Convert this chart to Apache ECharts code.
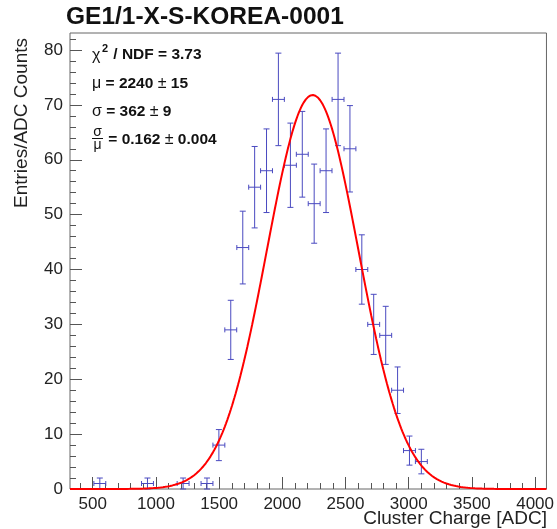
<!DOCTYPE html>
<html>
<head>
<meta charset="utf-8">
<script src="https://cdn.jsdelivr.net/npm/echarts@6/dist/echarts.min.js"></script>
<style>
html,body{margin:0;padding:0;background:#fff;}
#c{width:557px;height:529px;}
</style>
</head>
<body>
<div id="c"></div>
<script>
// ---- data ----
const binCenters = [556, 933, 1215, 1404, 1498, 1592, 1687, 1781, 1875, 1969, 2064, 2158, 2252, 2346, 2441, 2535, 2629, 2723, 2818, 2912, 3006, 3100];
const counts     = [1, 1, 1, 1, 8, 29, 44, 55, 58, 71, 59, 61, 52, 58, 71, 62, 40, 30, 28, 18, 7, 5];
const countErrs  = [1, 1, 1, 1, 2.83, 5.39, 6.63, 7.42, 7.62, 8.43, 7.68, 7.81, 7.21, 7.62, 8.43, 7.87, 6.32, 5.48, 5.29, 4.24, 2.65, 2.24];
const binHalfWidth = 47.1;
const xTickLabels = [500, 1000, 1500, 2000, 2500, 3000, 3500, 4000];
const yTickLabels = [0, 10, 20, 30, 40, 50, 60, 70, 80];
const xRange = [320, 4090];
const yRange = [0, 83.1];
// Gaussian fit parameters shown in the stats box
const fitMu = 2240, fitSigma = 362, fitAmp = 71.8;

// ---- derived ----
const xMinor = [];
for (let v = 400; v <= 4000; v += 100) if (v % 500 !== 0) xMinor.push(v);
const yMinor = [];
for (let v = 2; v <= 82; v += 2) if (v % 10 !== 0) yMinor.push(v);

const fitCurve = [];
const nFit = 400;
for (let i = 0; i <= nFit; i++) {
  const x = xRange[0] + (xRange[1] - xRange[0]) * i / nFit;
  fitCurve.push([x, fitAmp * Math.exp(-0.5 * Math.pow((x - fitMu) / fitSigma, 2))]);
}
const errData = binCenters.map((c, i) => [c, counts[i], countErrs[i], binHalfWidth]);

const FONT = "'Liberation Sans', Arial, Helvetica, sans-serif";
const BAR = '#4a4ac0';
const AX = '#555';

const chart = echarts.init(document.getElementById('c'), null, {renderer: 'canvas'});
const gridBox = {left: 70, right: 10, top: 33, bottom: 40};
const plain = v => String(v);

chart.setOption({
  animation: false,
  backgroundColor: '#fff',
  grid: Object.assign({show: true, borderColor: '#666', borderWidth: 1, backgroundColor: 'transparent', containLabel: false}, gridBox),
  xAxis: [{
    type: 'value', min: xRange[0], max: xRange[1], position: 'bottom',
    axisLine: {show: false}, splitLine: {show: false},
    axisTick: {show: true, inside: true, length: 12, customValues: xTickLabels, lineStyle: {color: AX}},
    axisLabel: {customValues: xTickLabels, formatter: plain, color: '#222', fontSize: 17, fontFamily: FONT, margin: 7}
  }, {
    type: 'value', min: xRange[0], max: xRange[1], position: 'bottom',
    axisLine: {show: false}, splitLine: {show: false},
    axisTick: {show: true, inside: true, length: 6, customValues: xMinor, lineStyle: {color: AX}},
    axisLabel: {show: false}
  }],
  yAxis: [{
    type: 'value', min: yRange[0], max: yRange[1], position: 'left',
    axisLine: {show: false}, splitLine: {show: false},
    axisTick: {show: true, inside: true, length: 12, customValues: yTickLabels, lineStyle: {color: AX}},
    axisLabel: {customValues: yTickLabels, formatter: plain, color: '#222', fontSize: 17, fontFamily: FONT, margin: 7}
  }, {
    type: 'value', min: yRange[0], max: yRange[1], position: 'left',
    axisLine: {show: false}, splitLine: {show: false},
    axisTick: {show: true, inside: true, length: 6, customValues: yMinor, lineStyle: {color: AX}},
    axisLabel: {show: false}
  }],
  series: [{
    type: 'custom',
    xAxisIndex: 0, yAxisIndex: 0,
    data: errData,
    z: 3,
    renderItem: function (params, api) {
      const x = api.value(0), y = api.value(1), e = api.value(2), hw = api.value(3);
      const c = api.coord([x, y]);
      const lo = api.coord([x, Math.max(0, y - e)]);
      const hi = api.coord([x, y + e]);
      const l = api.coord([x - hw, y]);
      const r = api.coord([x + hw, y]);
      const st = {stroke: BAR, lineWidth: 1};
      const cap = 3, hcap = 2.5;
      return {
        type: 'group',
        children: [
          {type: 'line', shape: {x1: l[0], y1: c[1], x2: r[0], y2: c[1]}, style: st},
          {type: 'line', shape: {x1: c[0], y1: lo[1], x2: c[0], y2: hi[1]}, style: st},
          {type: 'line', shape: {x1: c[0] - cap, y1: lo[1], x2: c[0] + cap, y2: lo[1]}, style: st},
          {type: 'line', shape: {x1: c[0] - cap, y1: hi[1], x2: c[0] + cap, y2: hi[1]}, style: st},
          {type: 'line', shape: {x1: l[0], y1: c[1] - hcap, x2: l[0], y2: c[1] + hcap}, style: st},
          {type: 'line', shape: {x1: r[0], y1: c[1] - hcap, x2: r[0], y2: c[1] + hcap}, style: st}
        ]
      };
    }
  }, {
    type: 'line',
    xAxisIndex: 0, yAxisIndex: 0,
    data: fitCurve,
    showSymbol: false, smooth: false, z: 4,
    lineStyle: {color: '#ff0000', width: 2}
  }],
  graphic: [
    {type: 'text', left: 66, top: 5, style: {text: 'GE1/1-X-S-KOREA-0001', font: 'bold 24.5px ' + FONT, fill: '#111'}},
    {type: 'text', x: 22, y: 38, rotation: Math.PI / 2, style: {text: 'Entries/ADC Counts', font: '19px ' + FONT, fill: '#222', align: 'right', verticalAlign: 'middle'}},
    {type: 'text', x: 547, y: 519, style: {text: 'Cluster Charge [ADC]', font: '19px ' + FONT, fill: '#222', align: 'right', verticalAlign: 'middle'}},
    // stats box
    {type: 'text', x: 92, y: 56, style: {text: 'χ', font: '16px ' + FONT, fill: '#111', verticalAlign: 'middle'}},
    {type: 'text', x: 102, y: 49, style: {text: '2', font: 'bold 11px ' + FONT, fill: '#111', verticalAlign: 'middle'}},
    {type: 'text', x: 109, y: 55, style: {text: ' / NDF = 3.73', font: 'bold 15.5px ' + FONT, fill: '#111', verticalAlign: 'middle'}},
    {type: 'text', x: 92, y: 84, style: {rich: {g: {font: '16px ' + FONT, fill: '#111'}, b: {font: 'bold 15.5px ' + FONT, fill: '#111'}}, text: '{g|μ}{b| = 2240 }{g|±}{b| 15}', verticalAlign: 'middle'}},
    {type: 'text', x: 92, y: 112, style: {rich: {g: {font: '16px ' + FONT, fill: '#111'}, b: {font: 'bold 15.5px ' + FONT, fill: '#111'}}, text: '{g|σ}{b| = 362 }{g|±}{b| 9}', verticalAlign: 'middle'}},
    {type: 'text', x: 97.5, y: 132, style: {text: 'σ', font: '14px ' + FONT, fill: '#111', align: 'center', verticalAlign: 'middle'}},
    {type: 'line', shape: {x1: 92, y1: 138.5, x2: 103, y2: 138.5}, style: {stroke: '#111', lineWidth: 1}},
    {type: 'text', x: 97.5, y: 145, style: {text: 'μ', font: '14px ' + FONT, fill: '#111', align: 'center', verticalAlign: 'middle'}},
    {type: 'text', x: 104, y: 140, style: {rich: {g: {font: '16px ' + FONT, fill: '#111'}, b: {font: 'bold 15.5px ' + FONT, fill: '#111'}}, text: '{b| = 0.162 }{g|±}{b| 0.004}', verticalAlign: 'middle'}}
  ]
});
</script>
</body>
</html>
